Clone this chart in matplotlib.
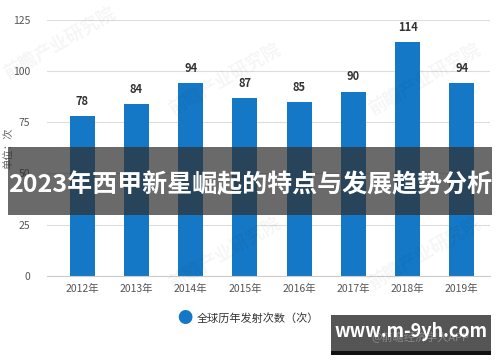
import matplotlib.pyplot as plt
from matplotlib.patches import Rectangle

plt.rcParams['font.family'] = ['Noto Sans CJK SC', 'DejaVu Sans']

years = ["2012年", "2013年", "2014年", "2015年", "2016年", "2017年", "2018年", "2019年"]
launches = [78, 84, 94, 87, 85, 90, 114, 94]
yticks = [0, 25, 50, 75, 100, 125]

fig = plt.figure(figsize=(5, 3.62), dpi=100)
ax = fig.add_axes([0.094, 0.238, 0.886, 0.707])

x = range(len(years))
bars = ax.bar(x, launches, width=0.46, color="#1578c6", zorder=2)
for xi, v in zip(x, launches):
    ax.text(xi, v + 4, str(v), ha="center", va="bottom", fontsize=8,
            fontweight="bold", color="#333333")

ax.set_xlim(-0.65, 7.52)
ax.set_ylim(0, 125)
ax.set_yticks(yticks)
ax.set_xticks(list(x))
ax.set_xticklabels(years)
ax.tick_params(axis="both", length=0, labelsize=7.5, labelcolor="#555555")
ax.tick_params(axis="x", pad=6)
ax.tick_params(axis="y", pad=12)
ax.grid(axis="y", color="#dddddd", linewidth=0.8, zorder=0)
for s in ["top", "right", "left"]:
    ax.spines[s].set_visible(False)
ax.spines["bottom"].set_color("#cccccc")
ax.set_ylabel("单位：次", fontsize=7.5, color="#666666", labelpad=6)
ax.yaxis.set_label_coords(-0.075, 0.5)

# legend
fig.text(0.37, 0.121, "●", fontsize=11, color="#1578c6", ha="center", va="center")
fig.text(0.394, 0.121, "全球历年发射次数（次）", fontsize=8, color="#333333", va="center")

# faint watermarks
for wx, wy in [(0.12, 0.88), (0.45, 0.78), (0.85, 0.78), (0.45, 0.3), (0.85, 0.3)]:
    fig.text(wx, wy, "前瞻产业研究院", fontsize=13, color="#000000", alpha=0.04,
             rotation=30, ha="center", va="center", fontweight="bold")

# banner
fig.patches.append(Rectangle((0.016, 0.406), 0.968, 0.188, transform=fig.transFigure,
                             facecolor="#303030", alpha=0.72, zorder=5))
fig.text(0.5, 0.49, "2023年西甲新星崛起的特点与发展趋势分析", fontsize=18,
         fontweight="bold", color="white", ha="center", va="center", zorder=6)

# site box
fig.patches.append(Rectangle((0.662, 0.028), 0.32, 0.102, transform=fig.transFigure,
                             facecolor="#555555", zorder=5))
fig.patches.append(Rectangle((0.662, 0.02), 0.32, 0.01, transform=fig.transFigure,
                             facecolor="#111111", zorder=5))
fig.text(0.84, 0.068, "@前瞻经济学人APP", fontsize=8, color="#888888",
         ha="center", va="center", zorder=6)
fig.text(0.822, 0.083, "www.m-9yh.com", fontsize=13, fontweight="bold",
         color="white", ha="center", va="center", zorder=7)

fig.savefig("out.png", dpi=100)
